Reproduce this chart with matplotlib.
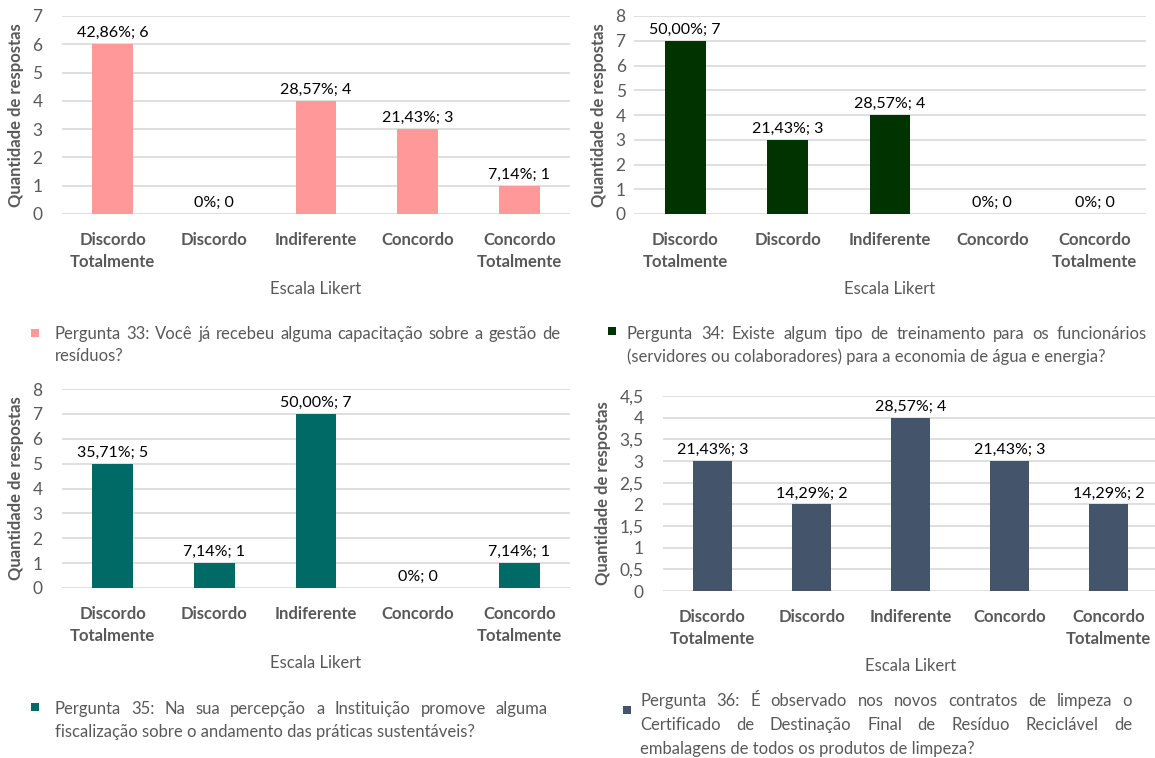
import matplotlib
matplotlib.use("Agg")
import matplotlib.pyplot as plt
from matplotlib.patches import Rectangle
from matplotlib.ticker import FuncFormatter

plt.rcParams['font.family'] = ['Lato', 'DejaVu Sans']

W, H = 1155, 758

categorias = ["Discordo\nTotalmente", "Discordo", "Indiferente", "Concordo", "Concordo\nTotalmente"]

p33_valores = [6, 0, 4, 3, 1]
p33_pct = ["42,86%", "0%", "28,57%", "21,43%", "7,14%"]
p34_valores = [7, 3, 4, 0, 0]
p34_pct = ["50,00%", "21,43%", "28,57%", "0%", "0%"]
p35_valores = [5, 1, 7, 0, 1]
p35_pct = ["35,71%", "7,14%", "50,00%", "0%", "7,14%"]
p36_valores = [3, 2, 4, 3, 2]
p36_pct = ["21,43%", "14,29%", "28,57%", "21,43%", "14,29%"]

p33_texto = ["Pergunta 33: Você já recebeu alguma capacitação sobre a gestão de",
             "resíduos?"]
p34_texto = ["Pergunta 34: Existe algum tipo de treinamento para os funcionários",
             "(servidores ou colaboradores) para a economia de água e energia?"]
p35_texto = ["Pergunta 35: Na sua percepção a Instituição promove alguma",
             "fiscalização sobre o andamento das práticas sustentáveis?"]
p36_texto = ["Pergunta 36: É observado nos novos contratos de limpeza o",
             "Certificado de Destinação Final de Resíduo Reciclável de",
             "embalagens de todos os produtos de limpeza?"]

CINZA = "#595959"
GRADE = "#D9D9D9"

fig = plt.figure(figsize=(W / 100, H / 100), dpi=100)
fig.patch.set_facecolor("white")


def px_axes(left, right, y0, ytop):
    return fig.add_axes([left / W, 1 - y0 / H, (right - left) / W, (y0 - ytop) / H])


def virgula(v, pos):
    if v == int(v):
        return "%d" % v
    return ("%.1f" % v).replace(".", ",")


def painel(ax, valores, pct, cor, ymax, passo, ypad):
    xs = range(len(valores))
    ax.bar(xs, valores, width=0.4, color=cor, zorder=3)
    for x, v, p in zip(xs, valores, pct):
        ax.text(x, v + ymax * 0.02, "%s; %d" % (p, v), ha="center", va="bottom",
                fontsize=11.5, color="black", zorder=4)
    ax.set_xlim(-0.5, len(valores) - 0.5)
    ax.set_ylim(0, ymax)
    ticks = []
    t = 0
    while t <= ymax + 1e-9:
        ticks.append(t)
        t += passo
    ax.set_yticks(ticks)
    ax.yaxis.set_major_formatter(FuncFormatter(virgula))
    ax.grid(axis="y", color=GRADE, linewidth=1.2, zorder=0)
    for s in ax.spines.values():
        s.set_visible(False)
    ax.tick_params(axis="both", length=0, labelcolor=CINZA, labelsize=12.5)
    ax.tick_params(axis="y", pad=ypad)
    ax.tick_params(axis="x", pad=13, labelsize=12)
    ax.set_xticks(list(xs))
    ax.set_xticklabels(categorias, fontweight="bold", linespacing=1.45)
    ax.set_xlabel("Escala Likert", color=CINZA, fontsize=12, labelpad=8)
    ax.set_ylabel("Quantidade de respostas", color=CINZA, fontsize=12,
                  fontweight="bold", labelpad=6)


def justificado(palavras, x0, x1, y):
    textos = [fig.text(0, 1 - y / H, w, fontsize=12, color=CINZA, va="center")
              for w in palavras]
    r = fig.canvas.get_renderer()
    larg = [t.get_window_extent(r).width for t in textos]
    gap = (x1 - x0 - sum(larg)) / max(len(palavras) - 1, 1)
    x = x0
    for t, w in zip(textos, larg):
        t.set_x(x / W)
        x += w + gap


def legenda(cor, xm, ym, linhas, x0, x1, y0, dy, justificar):
    fig.add_artist(Rectangle(((xm - 4) / W, 1 - (ym + 4) / H), 8 / W, 8 / H,
                             transform=fig.transFigure, color=cor, lw=0))
    for i, linha in enumerate(linhas):
        y = y0 + i * dy
        if i < justificar:
            justificado(linha.split(" "), x0, x1, y)
        else:
            fig.text(x0 / W, 1 - y / H, linha, fontsize=12, color=CINZA, va="center")


ax1 = px_axes(62, 570, 214, 16)
painel(ax1, p33_valores, p33_pct, "#FF9999", 7, 1, 14)
ax2 = px_axes(634, 1146, 214, 16)
painel(ax2, p34_valores, p34_pct, "#003300", 8, 1, 6)
ax3 = px_axes(62, 570, 588, 389)
painel(ax3, p35_valores, p35_pct, "#006B66", 8, 1, 14)
ax4 = px_axes(663, 1158, 591, 396)
painel(ax4, p36_valores, p36_pct, "#44546A", 4.5, 0.5, 14)

legenda("#FF9999", 35, 333, p33_texto, 55, 560, 334, 22, 1)
legenda("#003300", 612, 331, p34_texto, 627, 1147, 334, 23, 1)
legenda("#006B66", 35, 707, p35_texto, 55, 548, 709, 23, 1)
legenda("#44546A", 627, 710, p36_texto, 640, 1132, 701, 24, 2)

fig.savefig("out.png", dpi=100, facecolor="white")
